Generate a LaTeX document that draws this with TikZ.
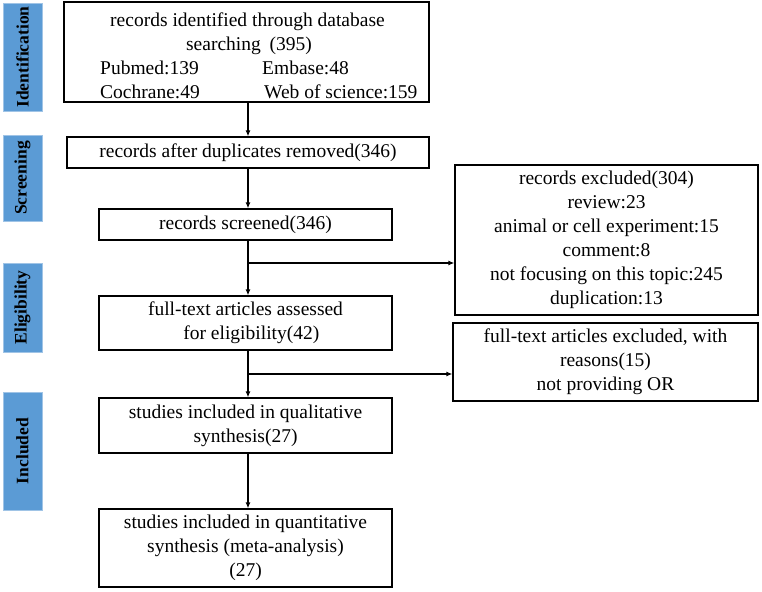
\documentclass[tikz,border=0pt]{standalone}
\usepackage{fontspec}
\setmainfont{Liberation Serif}
\usetikzlibrary{arrows.meta}
\definecolor{stageblue}{RGB}{91,155,213}
\definecolor{stageedge}{RGB}{160,196,230}
\tikzset{
  box/.style={draw=black, line width=1.2pt, align=center, inner sep=0pt,
    font=\fontsize{19.5}{24}\selectfont},
  stage/.style={fill=stageblue, draw=stageedge, line width=0.8pt, inner sep=0pt,
    rotate=90, font=\fontsize{17.5}{20}\selectfont\bfseries},
  txt/.style={inner sep=0pt, font=\fontsize{19.5}{24}\selectfont},
  arr/.style={line width=1.2pt, -{Latex[length=6pt,width=5pt]}}
}
\begin{document}
\begin{tikzpicture}[x=1pt,y=-1pt]
\useasboundingbox (0,0) rectangle (762,591);
% stage labels
\node[stage, minimum width=108pt, minimum height=39pt] (sid) at (22.5,57) {Identification};
\node[stage, minimum width=86pt, minimum height=39pt] (sscr) at (22.5,178) {Screening};
\node[stage, minimum width=89pt, minimum height=39pt] (sel) at (22.5,307.5) {Eligibility};
\node[stage, minimum width=118pt, minimum height=39pt] (sinc) at (22.5,451) {Included};
% top box
\node[box, minimum width=365pt, minimum height=100pt] (top) at (246.5,52) {};
\node[txt, anchor=base] (t1) at (247.5,27) {records identified through database};
\node[txt, anchor=base] (t2) at (249,51) {searching\hspace{0.45em}(395)};
\node[txt, anchor=base west] (t3) at (100,75) {Pubmed:139};
\node[txt, anchor=base west] (t4) at (262,75) {Embase:48};
\node[txt, anchor=base west] (t5) at (100,98.5) {Cochrane:49};
\node[txt, anchor=base west] (t6) at (264,98.5) {Web of science:159};
% main column
\node[box, minimum width=362pt, minimum height=31pt] (dup) at (248,152.5) {records after duplicates removed(346)};
\node[box, minimum width=293pt, minimum height=31pt] (scr) at (245.5,224.5) {records screened(346)};
\node[box, minimum width=293pt, minimum height=54pt] (full) at (245.5,323) {full-text articles assessed\\ \hspace{0.6em}for eligibility(42)};
\node[box, minimum width=293pt, minimum height=55pt] (qual) at (245.5,425.5) {studies included in qualitative\\ synthesis(27)};
\node[box, minimum width=293pt, minimum height=78pt] (quant) at (245.5,548) {studies included in quantitative\\ synthesis (meta-analysis)\\ (27)};
% right column
\node[box, minimum width=303pt, minimum height=150pt] (ex1) at (606.5,240) {records excluded(304)\\ review:23\\ animal or cell experiment:15\\ comment:8\\ not focusing on this topic:245\\ duplication:13};
\node[box, minimum width=305pt, minimum height=78pt] (ex2) at (605.5,362) {full-text articles excluded, with\\ reasons(15)\\ not providing OR};
% connectors
\coordinate (b1) at (248,263);
\coordinate (b2) at (248,374);
\draw[arr] (top.south -| dup.north) -- (dup.north);
\draw[arr] (dup.south) -- (dup.south |- scr.north);
\draw[arr] (dup.south |- scr.south) -- (dup.south |- full.north);
\draw[arr] (b1) -- (ex1.west |- b1);
\draw[arr] (dup.south |- full.south) -- (dup.south |- qual.north);
\draw[arr] (b2) -- (ex2.west |- b2);
\draw[arr] (dup.south |- qual.south) -- (dup.south |- quant.north);
\end{tikzpicture}
\end{document}
